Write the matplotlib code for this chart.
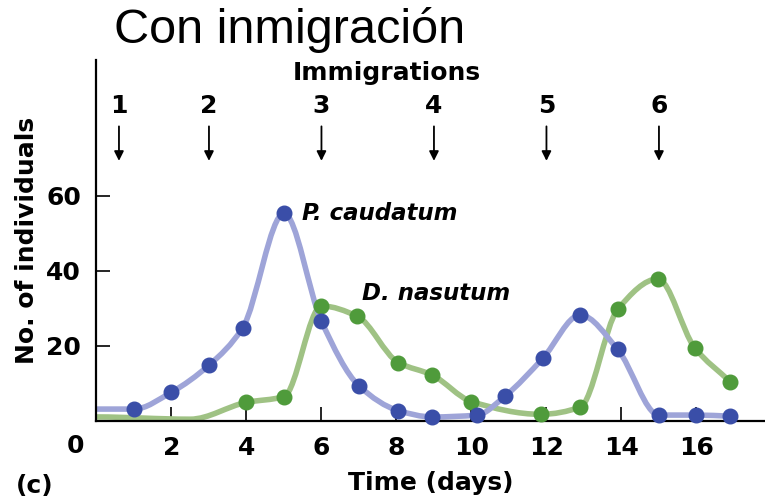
import numpy as np
import matplotlib
matplotlib.use("Agg")
import matplotlib.pyplot as plt
from matplotlib.path import Path
from matplotlib.patches import PathPatch

plt.rcParams["font.family"] = ["DejaVu Sans"]

# P. caudatum counts (blue)
days_p = [1, 2, 3, 3.9, 5, 6, 7, 8.05, 8.95, 10.15, 10.9, 11.9, 12.9, 13.9, 15, 16, 16.9]
caudatum = [3.1, 7.6, 14.8, 24.8, 55.3, 26.5, 9.3, 2.7, 1.0, 1.5, 6.6, 16.6, 28.2, 19.0, 1.5, 1.5, 1.2]
# D. nasutum counts (green)
days_d = [4, 5, 6, 6.95, 8.05, 8.95, 10, 11.85, 12.9, 13.9, 14.97, 15.95, 16.9]
nasutum = [4.9, 6.4, 30.6, 27.9, 15.5, 12.2, 5.1, 1.7, 3.6, 29.7, 37.8, 19.5, 10.4]
# where the drawn curves start before the first counted point
lead_p = ([0.0], [3.1])
lead_d = ([0.0, 2.5], [1.0, 0.4])

immig_days = [0.6, 3, 6, 9, 12, 15]
immig_labels = ["1", "2", "3", "4", "5", "6"]

BLUE_LINE, BLUE_DOT = "#9ea4d8", "#3a4ea8"
GREEN_LINE, GREEN_DOT = "#9fc284", "#4f9b3b"


def smooth_path(xs, ys):
    # monotone cubic (Fritsch-Carlson) through the points, drawn as Bezier segments
    x = np.asarray(xs, float)
    y = np.asarray(ys, float)
    h = np.diff(x)
    d = np.diff(y) / h
    n = len(x)
    m = np.zeros(n)
    for i in range(1, n - 1):
        if d[i - 1] * d[i] > 0:
            w1 = 2 * h[i] + h[i - 1]
            w2 = h[i] + 2 * h[i - 1]
            m[i] = (w1 + w2) / (w1 / d[i - 1] + w2 / d[i])
    m[0] = 0.0
    m[-1] = d[-1]
    verts = [(x[0], y[0])]
    codes = [Path.MOVETO]
    for i in range(n - 1):
        verts += [(x[i] + h[i] / 3, y[i] + m[i] * h[i] / 3),
                  (x[i + 1] - h[i] / 3, y[i + 1] - m[i + 1] * h[i] / 3),
                  (x[i + 1], y[i + 1])]
        codes += [Path.CURVE4] * 3
    return Path(verts, codes)


fig = plt.figure(figsize=(7.65, 5.0), dpi=100)
ax = fig.add_axes([0.1261, 0.1586, 0.874, 0.7214])
ax.set_xlim(0, 17.83)
ax.set_ylim(0, 96.2)

for lead, xs, ys, lc, dc in [(lead_d, days_d, nasutum, GREEN_LINE, GREEN_DOT),
                             (lead_p, days_p, caudatum, BLUE_LINE, BLUE_DOT)]:
    cx = list(lead[0]) + list(xs)
    cy = list(lead[1]) + list(ys)
    ax.add_patch(PathPatch(smooth_path(cx, cy), facecolor="none", edgecolor=lc,
                           lw=4.0, capstyle="round", joinstyle="round", zorder=2))
    ax.plot(xs, ys, "o", color=dc, ms=10.5, mec=dc, zorder=3, clip_on=False)

ax.text(5.47, 55.3, "P. caudatum", fontsize=16.5, fontweight="bold", style="italic",
        va="center", ha="left")
ax.text(7.08, 34.0, "D. nasutum", fontsize=16.5, fontweight="bold", style="italic",
        va="center", ha="left")

# immigration arrows
for d, lab in zip(immig_days, immig_labels):
    ax.text(d, 84.0, lab, fontsize=18, fontweight="bold", ha="center", va="center")
    ax.annotate("", xy=(d, 69.3), xytext=(d, 78.5),
                arrowprops=dict(arrowstyle="-|>", color="black", lw=1.3,
                                mutation_scale=14, shrinkA=0, shrinkB=0))
ax.text(7.73, 92.7, "Immigrations", fontsize=18, fontweight="bold", ha="center", va="center")

for s in ["top", "right"]:
    ax.spines[s].set_visible(False)
for s in ["left", "bottom"]:
    ax.spines[s].set_linewidth(1.6)

ax.set_xticks(range(2, 17, 2))
ax.set_yticks([20, 40, 60])
ax.tick_params(direction="in", length=10, width=1.2, labelsize=18, pad=11)
for t in ax.get_xticklabels() + ax.get_yticklabels():
    t.set_fontweight("bold")
ax.text(-0.57, -6.8, "0", fontsize=18, fontweight="bold", ha="center", va="center")

ax.set_xlabel("Time (days)", fontsize=18, fontweight="bold", labelpad=8)
ax.set_ylabel("No. of individuals", fontsize=18, fontweight="bold", labelpad=5)

fig.text(0.045, 0.027, "(c)", fontsize=18, fontweight="bold", ha="center", va="center")
fig.text(0.378, 0.94, "Con inmigración", fontsize=35, ha="center", va="center",
         family=["Liberation Sans", "DejaVu Sans"])

fig.savefig("out.png", dpi=100)
